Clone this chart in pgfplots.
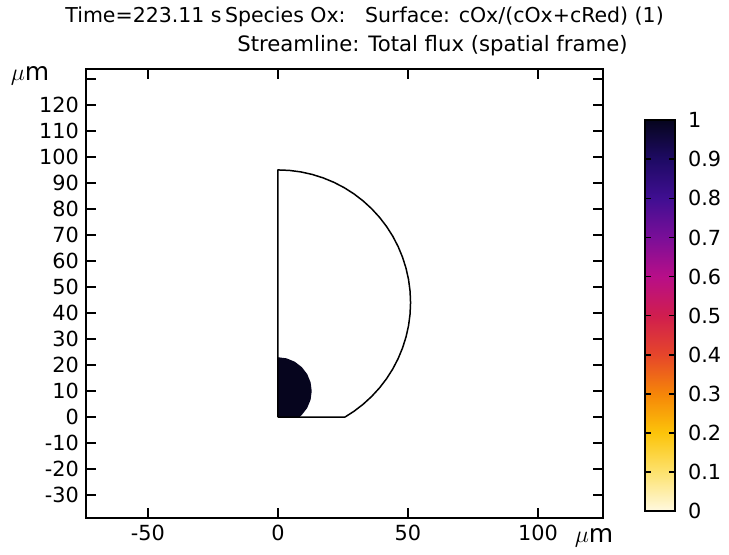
\documentclass[border=0pt]{standalone}
\usepackage{pgfplots}
\pgfplotsset{compat=1.18}
\usepackage{fontspec}
\setmainfont{DejaVu Sans}

\definecolor{diskfill}{RGB}{6,5,30}

\begin{document}
\begin{tikzpicture}
\begin{axis}[
  at={(0,0)}, anchor=south west,
  scale only axis,
  width=258.5pt, height=224.5pt,
  xmin=-73.8, xmax=125,
  ymin=-38.8, ymax=133.8,
  axis line style={line width=0.9pt},
  tick align=inside,
  major tick length=5pt,
  every tick/.style={line width=0.9pt, black},
  xtick={-50,0,50,100},
  xticklabels={-50,0,50,100},
  ytick={-30,-20,...,130},
  yticklabels={-30,-20,-10,0,10,20,30,40,50,60,70,80,90,100,110,120,{}},
  tick label style={font=\fontsize{10.4}{12}\selectfont},
  /pgf/number format/assume math mode=true,
  point meta min=0, point meta max=1,
  colormap={comsol}{
    rgb255=(255,249,224) rgb255=(253,226,110) rgb255=(252,196,10)
    rgb255=(246,134,8) rgb255=(230,70,42) rgb255=(208,30,78)
    rgb255=(184,14,136) rgb255=(122,14,152) rgb255=(64,14,146)
    rgb255=(30,10,100) rgb255=(6,5,30)},
  colorbar,
  colorbar style={
    at={(1.0812,0.886)}, anchor=north west,
    scale only axis,
    width=15pt, height=195.5pt,
    ytick={0,0.1,...,1},
    yticklabels={0,0.1,0.2,0.3,0.4,0.5,0.6,0.7,0.8,0.9,1},
    ytick pos=both, yticklabel pos=right,
    tick align=inside, major tick length=3pt,
    axis line style={line width=0.8pt},
    every tick/.style={line width=0.8pt, black},
    yticklabel style={font=\fontsize{10.4}{12}\selectfont, xshift=3pt},
  },
]
% dark half-disk (cOx = 1)
\addplot[fill=diskfill, draw=none] coordinates {
(0,0) (8.3,0) (9.19,0.81) (11.26,3.5) (12.56,6.64) (13,10) (12.56,13.36)
(11.26,16.5) (9.19,19.19) (6.5,21.26) (3.36,22.56) (0,23)
};
% domain boundary
\addplot[black, line width=0.75pt, line join=round] coordinates {
(0,0) (25.8,0) (29.25,2.22) (32.78,4.93) (36.06,7.94) (39.07,11.22)
(41.78,14.75) (44.17,18.5) (46.22,22.45) (47.92,26.56) (49.26,30.8)
(50.23,35.14) (50.81,39.55) (51,44) (50.81,48.45) (50.23,52.86)
(49.26,57.2) (47.92,61.44) (46.22,65.55) (44.17,69.5) (41.78,73.25)
(39.07,76.78) (36.06,80.06) (32.78,83.07) (29.25,85.78) (25.5,88.17)
(21.55,90.22) (17.44,91.92) (13.2,93.26) (8.86,94.23) (4.45,94.81)
(0,95) (0,0)
};
\end{axis}
% titles and units
\node[anchor=west, font=\fontsize{10.25}{12}\selectfont, inner sep=0pt] at (-10.5pt,250.5pt)
  {Time=223.11 s\,Species Ox:\hspace{0.95em}Surface: cOx/(cOx+cRed) (1)};
\node[anchor=west, font=\fontsize{10.6}{12}\selectfont, inner sep=0pt] at (75.5pt,236pt)
  {Streamline: Total flux (spatial frame)};
\node[font=\fontsize{12.5}{14}\selectfont, inner sep=0pt] at (-28pt,221pt) {$\mu$m};
\node[font=\fontsize{12.5}{14}\selectfont, inner sep=0pt] at (254pt,-10pt) {$\mu$m};
\pgfresetboundingbox
\path[use as bounding box] (-43pt,-18.5pt) rectangle (321.5pt,259pt);
\end{tikzpicture}
\end{document}
